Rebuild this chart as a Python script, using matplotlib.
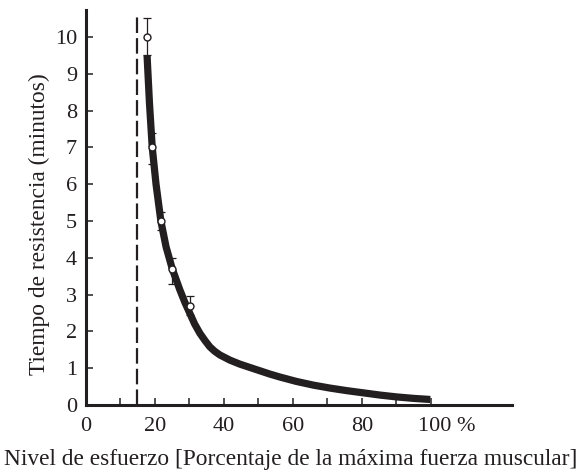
import matplotlib
matplotlib.use("Agg")
import matplotlib.pyplot as plt
import matplotlib.transforms as mtransforms

# measured points (effort %, endurance time in minutes)
pts_x = [17.8, 19.2, 21.6, 25.0, 30.1]
pts_y = [10.0, 7.0, 5.0, 3.7, 2.7]
err_hi = [10.5, 7.4, 5.25, 4.0, 2.95]
err_lo = [9.5, 6.55, 4.75, 3.3, 2.45]

# fitted curve
curve_x = [17.7, 18.4, 19.2, 20.3, 21.7, 23.2, 25.0, 27.2, 28.7, 30.1, 31.5, 33.0,
           34.5, 35.9, 37.3, 38.8, 41.7, 44.6, 47.5, 50.4, 53.3, 56.2, 61.0,
           65.9, 70.7, 75.6, 80.4, 85.2, 90.0, 94.9, 99.8]
curve_y = [9.5, 8.2, 7.0, 6.0, 5.0, 4.3, 3.7, 3.13, 2.78, 2.49, 2.2, 1.95,
           1.75, 1.58, 1.46, 1.36, 1.22, 1.11, 1.02, 0.93, 0.84, 0.76, 0.64,
           0.54, 0.46, 0.39, 0.33, 0.27, 0.22, 0.18, 0.15]

threshold = 14.8

x_ticks = [0, 10, 20, 30, 40, 50, 60, 70, 80, 90, 100]
x_labels = ["0", "", "20", "", "40", "", "60", "", "80", "", "100 %"]
y_ticks = list(range(11))

plt.rcParams['font.family'] = ['Liberation Serif', 'DejaVu Serif']

ink = '#231f20'

fig = plt.figure(figsize=(5.83, 4.70), dpi=100)
ax = fig.add_axes([0.1475, 0.1383, 0.7302, 0.8404])

ax.plot(curve_x, curve_y, color=ink, lw=5.2, solid_capstyle='butt',
        solid_joinstyle='round', zorder=2)
ax.plot([threshold, threshold], [0, 10.62], color=ink, lw=1.6,
        dashes=(7, 2.3), zorder=1)

yerr = [[y - lo for y, lo in zip(pts_y, err_lo)],
        [hi - y for y, hi in zip(pts_y, err_hi)]]
ax.errorbar(pts_x, pts_y, yerr=yerr, fmt='none', ecolor=ink,
            elinewidth=0.9, capsize=3, capthick=0.9, zorder=3)
ax.plot(pts_x, pts_y, 'o', ms=5, mfc='white', mec=ink, mew=1, zorder=4)

ax.set_xlim(0, 123.4)
ax.set_ylim(0, 10.73)

for s in ['top', 'right']:
    ax.spines[s].set_visible(False)
for s in ['left', 'bottom']:
    ax.spines[s].set_linewidth(2.2)
    ax.spines[s].set_color(ink)

ax.set_xticks(x_ticks)
ax.set_xticklabels(x_labels)
ax.set_yticks(y_ticks)
ax.tick_params(axis='both', direction='in', length=5, width=1.1, color=ink,
               labelsize=16, labelcolor=ink)
ax.tick_params(axis='x', pad=8.5)
ax.tick_params(axis='y', pad=6.5)

# shift "100 %" so the number sits under its tick
lab = ax.get_xticklabels()[-1]
lab.set_transform(lab.get_transform() +
                  mtransforms.ScaledTranslation(0.16, 0, fig.dpi_scale_trans))

ax.set_xlabel("Nivel de esfuerzo [Porcentaje de la máxima fuerza muscular]",
              fontsize=16.8, color=ink)
ax.set_ylabel("Tiempo de resistencia (minutos)", fontsize=16.8, color=ink)
ax.xaxis.set_label_coords(0.4816, -0.111)
ax.yaxis.set_label_coords(-0.084, 0.458)

fig.savefig("out.png", dpi=100)
